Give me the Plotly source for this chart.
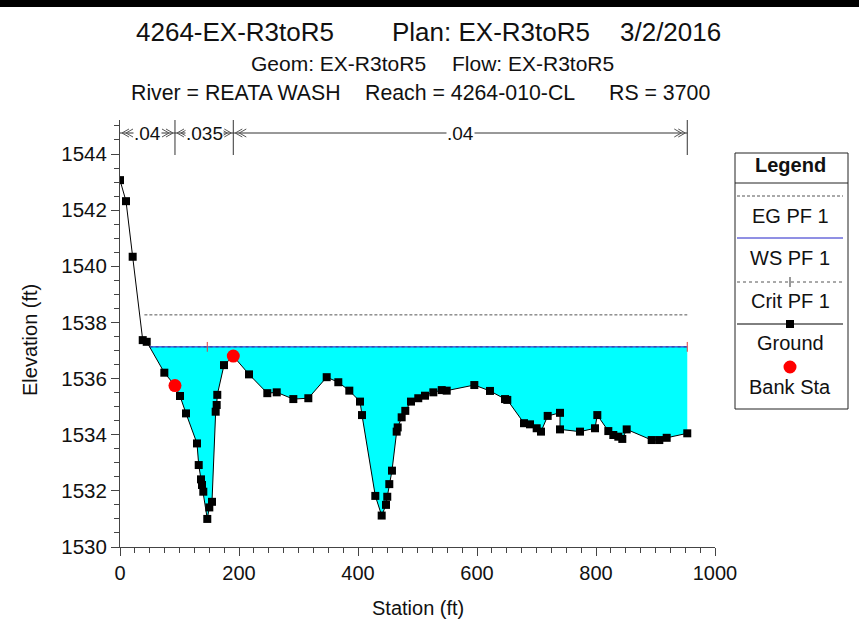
import plotly.graph_objects as go

# ---------------- data ----------------
station = [0, 10.1, 21.3, 38.2, 44.9, 74.5, 92.4, 100.8, 110.9, 129.4, 132.3, 136.1, 137.8, 140.0,
           146.7, 150.1, 154.6, 160.8, 162.5, 163.5, 174.8, 190.4, 216.8, 247.6, 263.4, 291.3,
           316.5, 347.4, 366.9, 385.4, 403.4, 406.7, 429.1, 439.8, 447.1, 449.2, 452.6, 457.1,
           465.0, 466.7, 473.4, 479.5, 489.1, 501.3, 512.6, 526.6, 540.7, 549.1, 595.5, 621.8,
           647.1, 650.9, 679.0, 689.1, 700.3, 707.6, 718.8, 739.5, 739.5, 773.1, 798.3, 802.2,
           820.7, 829.1, 837.5, 844.2, 851.6, 893.6, 906.4, 918.8, 953.4]
ground = [1543.07, 1542.32, 1540.34, 1537.37, 1537.31, 1536.21, 1535.75, 1535.38, 1534.76, 1533.69,
          1532.92, 1532.41, 1532.21, 1531.97, 1531.00, 1531.41, 1531.61, 1534.82, 1535.06, 1535.42,
          1536.48, 1536.80, 1536.15, 1535.48, 1535.51, 1535.27, 1535.30, 1536.05, 1535.87, 1535.57,
          1535.18, 1534.70, 1531.82, 1531.12, 1531.50, 1531.79, 1532.24, 1532.72, 1534.11, 1534.26,
          1534.62, 1534.85, 1535.18, 1535.30, 1535.39, 1535.51, 1535.59, 1535.57, 1535.77, 1535.56,
          1535.27, 1535.24, 1534.41, 1534.37, 1534.23, 1534.11, 1534.67, 1534.78, 1534.19, 1534.11,
          1534.23, 1534.70, 1534.13, 1533.99, 1533.93, 1533.85, 1534.19, 1533.81, 1533.81, 1533.89,
          1534.05]
bank_sta = [92.4, 190.4]
bank_elev = [1535.75, 1536.80]
ws_elev = 1537.13
eg_elev = 1538.27
eg_start = 41.0
crit_elev = 1537.13
crit_sta = [146.7, 953.4]
n_values = [".04", ".035", ".04"]
n_stations = [0, 92.4, 190.4, 953.4]
x_ticks = [0, 200, 400, 600, 800, 1000]
y_ticks = [1530, 1532, 1534, 1536, 1538, 1540, 1542, 1544]

# ---------------- layout geometry (pixels) ----------------
W, H = 859, 622
L, R, T, B = 120, 715, 120, 547
YMIN, YMAX = 1530, 1530 + (B - T) / 28.07


def px(xp):
    return (xp - L) / (R - L)


def py(yp):
    return (B - yp) / (B - T)


SANS = "Liberation Sans, Arial, sans-serif"

# water surface crossing on the left (interpolated where ground meets WS)
ws_start = station[0]
for i in range(len(station) - 1):
    if ground[i] >= ws_elev > ground[i + 1]:
        f = (ground[i] - ws_elev) / (ground[i] - ground[i + 1])
        ws_start = station[i] + f * (station[i + 1] - station[i])
        break
ws_end = station[-1]

fill_x = [ws_start] + [s for s in station if ws_start < s <= ws_end] + [ws_end, ws_start]
fill_y = [ws_elev] + [g for s, g in zip(station, ground) if ws_start < s <= ws_end] + [ws_elev, ws_elev]

fig = go.Figure()
fig.add_trace(go.Scatter(x=fill_x, y=fill_y, fill="toself", fillcolor="#00FFFF",
                         mode="none", hoverinfo="skip", showlegend=False))
fig.add_trace(go.Scatter(x=[eg_start, ws_end], y=[eg_elev, eg_elev], mode="lines",
                         line=dict(color="#555555", width=1, dash="3px,2px"), showlegend=False))
fig.add_trace(go.Scatter(x=[ws_start, ws_end], y=[crit_elev, crit_elev], mode="lines",
                         line=dict(color="#555555", width=1, dash="dot"), showlegend=False))
fig.add_trace(go.Scatter(x=[ws_start, ws_end], y=[ws_elev, ws_elev], mode="lines",
                         line=dict(color="#2020C8", width=1), showlegend=False))
fig.add_trace(go.Scatter(x=crit_sta, y=[crit_elev] * len(crit_sta), mode="markers",
                         marker=dict(symbol="line-ns", size=7, line=dict(color="#E04040", width=1)),
                         showlegend=False))
fig.add_trace(go.Scatter(x=station, y=ground, mode="lines+markers",
                         line=dict(color="black", width=1),
                         marker=dict(symbol="square", size=8, color="black"), showlegend=False))
fig.add_trace(go.Scatter(x=bank_sta, y=bank_elev, mode="markers",
                         marker=dict(symbol="circle", size=13, color="#FF0000"), showlegend=False))

shapes = []
annotations = []

# top black bar
shapes.append(dict(type="rect", xref="paper", yref="paper", x0=px(0), x1=px(W), y0=py(0), y1=py(7),
                   fillcolor="black", line=dict(width=0), layer="above"))


# titles
def tline(text, x, y, size, anchor="left"):
    annotations.append(dict(text=text, xref="paper", yref="paper", x=px(x), y=py(y), xanchor=anchor,
                            yanchor="middle", showarrow=False,
                            font=dict(family=SANS, size=size, color="#111")))


tline("4264-EX-R3toR5", 134, 32, 26)
tline("Plan: EX-R3toR5", 390, 32, 26)
tline("3/2/2016", 723, 32, 26, "right")
tline("Geom: EX-R3toR5", 249, 63, 21)
tline("Flow: EX-R3toR5", 616, 63, 21, "right")
tline("River = REATA WASH", 129, 93, 21.3)
tline("Reach = 4264-010-CL", 363, 93, 21.3)
tline("RS = 3700", 712, 93, 21.3, "right")

# Manning's n bar
NY = 133
shapes.append(dict(type="line", xref="x", yref="paper", x0=n_stations[0], x1=n_stations[-1],
                   y0=py(NY), y1=py(NY), line=dict(color="#333", width=1)))
for s in n_stations[1:]:
    shapes.append(dict(type="line", xref="x", yref="paper", x0=s, x1=s, y0=py(T), y1=py(155),
                       line=dict(color="#333", width=1)))
for i, nv in enumerate(n_values):
    a, b = n_stations[i], n_stations[i + 1]
    annotations.append(dict(text=nv, x=(a + b) / 2, xref="x", yref="paper", y=py(NY), showarrow=False,
                            xanchor="center", yanchor="middle", bgcolor="white", borderpad=0,
                            font=dict(family=SANS, size=19, color="#111")))
    ax = L + a * (R - L) / 1000.0
    bx = L + b * (R - L) / 1000.0
    for off in (2, 6):
        shapes.append(dict(type="path", xref="paper", yref="paper", line=dict(color="#555", width=1),
                           path="M %f %f L %f %f L %f %f" % (px(ax + off + 7), py(NY - 4), px(ax + off), py(NY),
                                                             px(ax + off + 7), py(NY + 4))))
        shapes.append(dict(type="path", xref="paper", yref="paper", line=dict(color="#555", width=1),
                           path="M %f %f L %f %f L %f %f" % (px(bx - off - 7), py(NY - 4), px(bx - off), py(NY),
                                                             px(bx - off - 7), py(NY + 4))))

# axis titles
annotations.append(dict(text="Station (ft)", xref="paper", yref="paper", x=px(418), y=py(608),
                        showarrow=False, xanchor="center", yanchor="middle",
                        font=dict(family=SANS, size=20, color="#111")))
annotations.append(dict(text="Elevation (ft)", xref="paper", yref="paper", x=px(30), y=py(340),
                        showarrow=False, xanchor="center", yanchor="middle", textangle=-90,
                        font=dict(family=SANS, size=20, color="#111")))

# legend box
LX0, LX1, LY0, LY1 = 735, 848, 153, 409
shapes.append(dict(type="rect", xref="paper", yref="paper", x0=px(LX0), x1=px(LX1), y0=py(LY0), y1=py(LY1),
                   line=dict(color="#222", width=1), fillcolor="white"))
shapes.append(dict(type="line", xref="paper", yref="paper", x0=px(LX0), x1=px(LX1), y0=py(183), y1=py(183),
                   line=dict(color="#222", width=1)))
CX = 790


def ltext(text, y, bold=False):
    annotations.append(dict(text="<b>%s</b>" % text if bold else text, xref="paper", yref="paper",
                            x=px(CX), y=py(y), showarrow=False, xanchor="center", yanchor="middle",
                            font=dict(family=SANS, size=20, color="#111")))


def lline(y, color, dash, width=1):
    shapes.append(dict(type="line", xref="paper", yref="paper", x0=px(737), x1=px(843), y0=py(y), y1=py(y),
                       line=dict(color=color, width=width, dash=dash)))


ltext("Legend", 165, True)
lline(196, "#555", "3px,2px")
ltext("EG PF 1", 216)
lline(238, "#2020C8", "solid")
ltext("WS PF 1", 258)
lline(282, "#555", "dot")
shapes.append(dict(type="line", xref="paper", yref="paper", x0=px(CX), x1=px(CX), y0=py(277), y1=py(287),
                   line=dict(color="#333", width=1)))
ltext("Crit PF 1", 301)
lline(324, "black", "solid")
shapes.append(dict(type="rect", xref="paper", yref="paper", x0=px(CX - 4), x1=px(CX + 4), y0=py(320),
                   y1=py(328), fillcolor="black", line=dict(width=0)))
ltext("Ground", 343)
shapes.append(dict(type="circle", xref="paper", yref="paper", x0=px(CX - 6.5), x1=px(CX + 6.5), y0=py(360.5),
                   y1=py(373.5), fillcolor="#FF0000", line=dict(width=0)))
ltext("Bank Sta", 387)

fig.update_layout(
    width=W, height=H, margin=dict(l=L, r=W - R, t=T, b=H - B, pad=0),
    paper_bgcolor="white", plot_bgcolor="white", showlegend=False,
    shapes=shapes, annotations=annotations,
    xaxis=dict(range=[0, 1000], tickvals=x_ticks, ticks="outside", ticklen=8, tickcolor="#444",
               showline=True, linecolor="#444", linewidth=1, showgrid=False, zeroline=False,
               tickfont=dict(family=SANS, size=20, color="#111"),
               minor=dict(dtick=25, ticks="outside", ticklen=5, tickcolor="#444")),
    yaxis=dict(range=[YMIN, YMAX], tickvals=y_ticks, ticks="outside", ticklen=8, tickcolor="#444",
               showline=True, linecolor="#444", linewidth=1, showgrid=False, zeroline=False,
               tickfont=dict(family=SANS, size=20.5, color="#111"),
               minor=dict(dtick=0.5, ticks="outside", ticklen=5, tickcolor="#444")),
)

fig.write_html("out.html", config={"displayModeBar": False},
               post_script="document.body.style.margin='0';")
